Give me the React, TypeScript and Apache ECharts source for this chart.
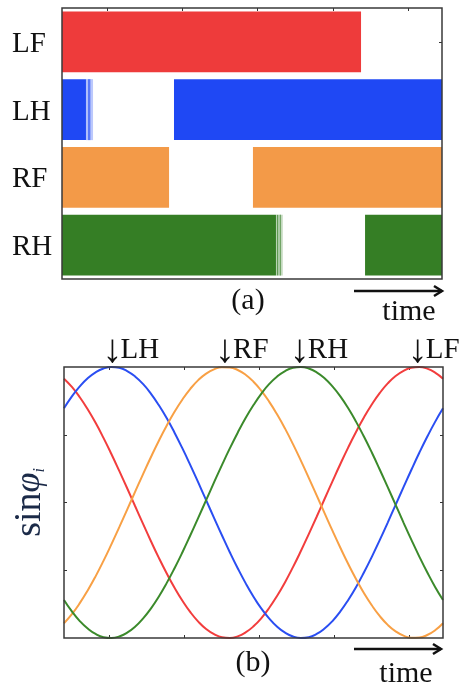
import React, { useEffect, useRef } from "react";
import * as echarts from "echarts";

// ---- data ----
const LEGS = ["LF", "LH", "RF", "RH"];
const BAR_COLORS = ["#ee3b3b", "#1f48f4", "#f39a48", "#357e25"];
const LINE_COLORS = ["#f23d3d", "#2a4ef2", "#f8a045", "#3b8a2b"];

// stance intervals on the gait-cycle phase axis (0..360): [start, end, opacity]
const LF_STANCE = [[0, 283.3, 1]];
const LH_STANCE = [[0, 22.7, 1], [22.7, 24.6, 0.35], [24.6, 27.0, 0.75], [27.0, 29.4, 0.3], [106.1, 360, 1]];
const RF_STANCE = [[0, 101.4, 1], [180.9, 360, 1]];
const RH_STANCE = [[0, 202.7, 1], [202.7, 203.7, 0.35], [203.7, 204.9, 0.8], [204.9, 206.2, 0.35], [206.2, 207.5, 0.7], [207.5, 209.1, 0.3], [287.1, 360, 1]];
const STANCES = [LF_STANCE, LH_STANCE, RF_STANCE, RH_STANCE];

// sin(phi_i)
const PHASE_X = [0, 7.5, 15, 22.5, 30, 37.5, 45, 52.5, 60, 67.5, 75, 82.5, 90, 97.5, 105, 112.5, 120, 127.5, 135, 142.5, 150, 157.5, 165, 172.5, 180, 187.5, 195, 202.5, 210, 217.5, 225, 232.5, 240, 247.5, 255, 262.5, 270, 277.5, 285, 292.5, 300, 307.5, 315, 322.5, 330, 337.5, 345, 352.5, 360];
const SIN_LF = [0.914, 0.853, 0.777, 0.688, 0.588, 0.477, 0.358, 0.233, 0.105, -0.026, -0.156, -0.284, -0.407, -0.522, -0.629, -0.725, -0.809, -0.879, -0.934, -0.972, -0.995, -1.0, -0.988, -0.959, -0.914, -0.853, -0.777, -0.688, -0.588, -0.477, -0.358, -0.233, -0.105, 0.026, 0.156, 0.284, 0.407, 0.522, 0.629, 0.725, 0.809, 0.879, 0.934, 0.972, 0.995, 1.0, 0.988, 0.959, 0.914];
const SIN_LH = [0.695, 0.783, 0.857, 0.917, 0.961, 0.989, 1.0, 0.994, 0.97, 0.93, 0.875, 0.804, 0.719, 0.623, 0.515, 0.399, 0.276, 0.148, 0.017, -0.113, -0.242, -0.367, -0.485, -0.595, -0.695, -0.783, -0.857, -0.917, -0.961, -0.989, -1.0, -0.994, -0.97, -0.93, -0.875, -0.804, -0.719, -0.623, -0.515, -0.399, -0.276, -0.148, -0.017, 0.113, 0.242, 0.367, 0.485, 0.595, 0.695];
const SIN_RF = [-0.891, -0.824, -0.743, -0.649, -0.545, -0.431, -0.309, -0.182, -0.052, 0.078, 0.208, 0.334, 0.454, 0.566, 0.669, 0.76, 0.839, 0.903, 0.951, 0.983, 0.999, 0.997, 0.978, 0.943, 0.891, 0.824, 0.743, 0.649, 0.545, 0.431, 0.309, 0.182, 0.052, -0.078, -0.208, -0.334, -0.454, -0.566, -0.669, -0.76, -0.839, -0.903, -0.951, -0.983, -0.999, -0.997, -0.978, -0.943, -0.891];
const SIN_RH = [-0.719, -0.804, -0.875, -0.93, -0.97, -0.994, -1.0, -0.989, -0.961, -0.917, -0.857, -0.783, -0.695, -0.595, -0.485, -0.367, -0.242, -0.113, 0.017, 0.148, 0.276, 0.399, 0.515, 0.623, 0.719, 0.804, 0.875, 0.93, 0.97, 0.994, 1.0, 0.989, 0.961, 0.917, 0.857, 0.783, 0.695, 0.595, 0.485, 0.367, 0.242, 0.113, -0.017, -0.148, -0.276, -0.399, -0.515, -0.623, -0.719];
const SINES = [SIN_LF, SIN_LH, SIN_RF, SIN_RH];

// peak positions marked above panel (b)
const PEAK_X = [336, 46, 153, 224];

const TIME_TICKS = [42.7, 114, 185.2, 256.5, 327.7];
const SIN_TICKS = [-0.5, 0, 0.5];

const FONT = "'Liberation Serif', 'Times New Roman', serif";

export default function App() {
  const ref = useRef<HTMLDivElement>(null);
  useEffect(() => {
    if (!ref.current) return;
    const chart = echarts.init(ref.current, undefined, { renderer: "svg" });

    const barSeries = LEGS.map((leg, i) => ({
      type: "custom",
      name: leg + " stance",
      xAxisIndex: 0,
      yAxisIndex: 0,
      data: STANCES[i].map((s) => [s[0], s[1], i, s[2]]),
      encode: { x: [0, 1], y: 2 },
      renderItem: (params: any, api: any) => {
        const a = api.coord([api.value(0), api.value(2)]);
        const b = api.coord([api.value(1), api.value(2)]);
        const h = api.size([0, 1])[1] * 0.9;
        return {
          type: "rect",
          shape: { x: a[0], y: a[1] - h / 2, width: b[0] - a[0], height: h },
          style: { fill: BAR_COLORS[i], opacity: api.value(3) },
        };
      },
    }));

    const lineSeries = LEGS.map((leg, i) => ({
      type: "line",
      name: leg,
      xAxisIndex: 2,
      yAxisIndex: 2,
      data: PHASE_X.map((x, k) => [x, SINES[i][k]]),
      smooth: 0.5,
      showSymbol: false,
      lineStyle: { color: LINE_COLORS[i], width: 2 },
      markPoint: {
        symbol: "circle",
        symbolSize: 0,
        data: [{ coord: [PEAK_X[i], 1] }],
        label: {
          show: true,
          formatter: "{a|\u2193}{t|" + leg + "}",
          position: "top",
          distance: 0,
          align: "left",
          offset: [-10, -3],
          color: "#111",
          rich: {
            a: { fontFamily: FONT, fontSize: 40, width: 18, lineHeight: 32, color: "#111" },
            t: { fontFamily: FONT, fontSize: 29, lineHeight: 32, color: "#111" },
          },
        },
      },
    }));

    const tickStyle = { show: true, inside: true, length: 3, lineStyle: { color: "#333", width: 1 } };
    const hiddenX = (gridIndex: number, position: string, ticks: boolean) => ({
      type: "value",
      gridIndex,
      position,
      min: 0,
      max: 360,
      axisLine: { show: false, onZero: false },
      axisTick: ticks ? { ...tickStyle, customValues: TIME_TICKS } : { show: false },
      axisLabel: { show: false, customValues: TIME_TICKS },
      splitLine: { show: false },
    });

    const option: any = {
      animation: false,
      grid: [
        { left: 62, top: 8, width: 380, height: 271, show: true, borderColor: "#3a3a3a", borderWidth: 1.5, backgroundColor: "transparent", z: 5 },
        { left: 64, top: 367, width: 379, height: 271, show: true, borderColor: "#3a3a3a", borderWidth: 1.5, backgroundColor: "transparent", z: 5 },
      ],
      xAxis: [hiddenX(0, "bottom", false), hiddenX(0, "top", true), hiddenX(1, "bottom", true), hiddenX(1, "top", true)],
      yAxis: [
        {
          type: "category",
          gridIndex: 0,
          data: LEGS,
          inverse: true,
          position: "left",
          axisLine: { show: false, onZero: false },
          axisTick: { show: false },
          axisLabel: { align: "left", margin: 50, fontFamily: FONT, fontSize: 29, color: "#111" },
        },
        {
          type: "category",
          gridIndex: 0,
          data: LEGS,
          inverse: true,
          position: "right",
          axisLine: { show: false, onZero: false },
          axisTick: { ...tickStyle, alignWithLabel: true },
          axisLabel: { show: false },
        },
        {
          type: "value",
          gridIndex: 1,
          min: -1,
          max: 1,
          position: "left",
          axisLine: { show: false, onZero: false },
          axisTick: { ...tickStyle, customValues: SIN_TICKS },
          axisLabel: { show: false, customValues: SIN_TICKS },
          splitLine: { show: false },
          name: "{s|sin}{p|\u03c6}{i|i}",
          nameLocation: "middle",
          nameRotate: 90,
          nameGap: 18,
          nameTextStyle: {
            rich: {
              s: { fontFamily: FONT, fontSize: 38, color: "#1b2a48" },
              p: { fontFamily: FONT, fontSize: 36, fontStyle: "italic", color: "#1b2a48" },
              i: { fontFamily: FONT, fontSize: 16, fontStyle: "italic", color: "#1b2a48", verticalAlign: "bottom", padding: [12, 0, 0, 0] },
            },
          },
        },
        {
          type: "value",
          gridIndex: 1,
          min: -1,
          max: 1,
          position: "right",
          axisLine: { show: false, onZero: false },
          axisTick: { ...tickStyle, customValues: SIN_TICKS },
          axisLabel: { show: false, customValues: SIN_TICKS },
          splitLine: { show: false },
        },
      ],
      series: [...barSeries, ...lineSeries],
      graphic: [
        { type: "text", x: 248, y: 298, style: { text: "(a)", font: `30px ${FONT}`, fill: "#111", textAlign: "center", textVerticalAlign: "middle" } },
        { type: "text", x: 253, y: 660, style: { text: "(b)", font: `30px ${FONT}`, fill: "#111", textAlign: "center", textVerticalAlign: "middle" } },
        { type: "text", x: 409, y: 309, style: { text: "time", font: `30px ${FONT}`, fill: "#111", textAlign: "center", textVerticalAlign: "middle" } },
        { type: "text", x: 406, y: 671, style: { text: "time", font: `30px ${FONT}`, fill: "#111", textAlign: "center", textVerticalAlign: "middle" } },
        { type: "line", shape: { x1: 354, y1: 291, x2: 442, y2: 291 }, style: { stroke: "#111", lineWidth: 2.5 } },
        { type: "polyline", shape: { points: [[434, 286], [442, 291], [434, 296]] }, style: { stroke: "#111", lineWidth: 2.5, fill: "none" } },
        { type: "line", shape: { x1: 354, y1: 649, x2: 441, y2: 649 }, style: { stroke: "#111", lineWidth: 2.5 } },
        { type: "polyline", shape: { points: [[433, 644], [441, 649], [433, 654]] }, style: { stroke: "#111", lineWidth: 2.5, fill: "none" } },
      ],
    };

    chart.setOption(option);
    return () => chart.dispose();
  }, []);

  return <div ref={ref} style={{ position: "fixed", left: 0, top: 0, width: 461, height: 686 }} />;
}
